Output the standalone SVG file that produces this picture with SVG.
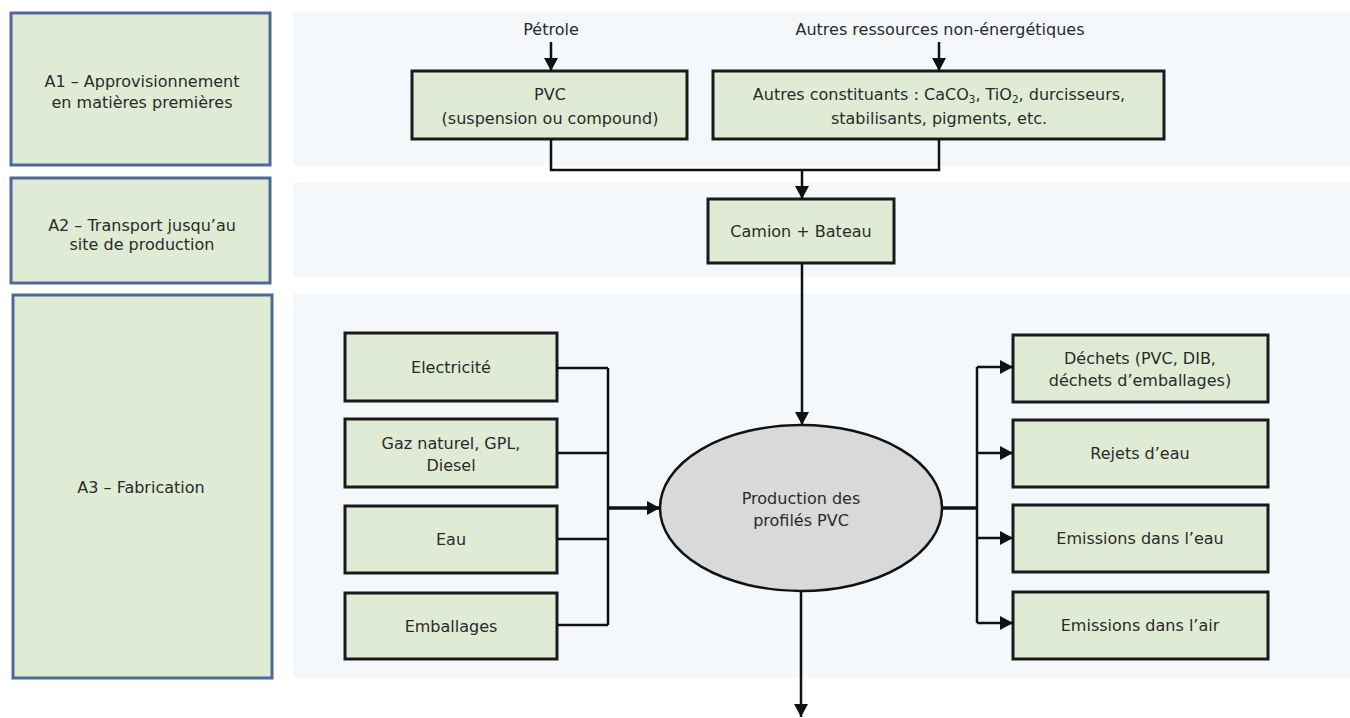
<svg xmlns="http://www.w3.org/2000/svg" width="1350" height="718" viewBox="0 0 1350 718">
<defs>
<style>
.band{fill:#f4f8fb}
.stage{fill:#e0ebd6;stroke:#4e6898;stroke-width:3}
.box{fill:#e0ebd6;stroke:#1a1a1a;stroke-width:3}
.ell{fill:#d9d9d9;stroke:#111;stroke-width:2.5}
text{font-family:"DejaVu Sans","Liberation Sans",sans-serif;font-size:16px;fill:#2a2a2a;text-anchor:middle}
.c{fill:none;stroke:#111;stroke-width:2.5}
.t{fill:none;stroke:#111;stroke-width:3.5}
.sub{font-size:10.5px}
</style>
<marker id="ah" markerUnits="userSpaceOnUse" markerWidth="14" markerHeight="14" refX="13" refY="7" orient="auto">
<path d="M0,0 L13,7 L0,14 z" fill="#111"/>
</marker>
</defs>
<rect width="1350" height="718" fill="#ffffff"/>
<g id="bands">
<rect class="band" x="293" y="12" width="1057" height="154"/>
<rect class="band" x="293" y="183" width="1057" height="94"/>
<rect class="band" x="293" y="294" width="1057" height="384"/>
</g>
<g id="stage-a1">
<rect class="stage" x="11" y="13" width="259" height="152"/>
<text x="142" y="87">A1 – Approvisionnement</text>
<text x="142" y="108">en matières premières</text>
</g>
<g id="stage-a2">
<rect class="stage" x="11" y="178" width="259" height="105"/>
<text x="142" y="231">A2 – Transport jusqu’au</text>
<text x="142" y="250">site de production</text>
</g>
<g id="stage-a3">
<rect class="stage" x="13" y="295" width="259" height="383"/>
<text x="141" y="493">A3 – Fabrication</text>
</g>
<g id="label-petrole">
<text x="551" y="35">Pétrole</text>
</g>
<g id="label-autres-ressources">
<text x="940" y="35">Autres ressources non-énergétiques</text>
</g>
<g id="node-pvc">
<rect class="box" x="412" y="71" width="275" height="68"/>
<text x="550" y="100">PVC</text>
<text x="550" y="124">(suspension ou compound)</text>
</g>
<g id="node-autres">
<rect class="box" x="713" y="71" width="451" height="68"/>
<text x="939" y="100">Autres constituants : CaCO<tspan class="sub" dy="3">3</tspan><tspan dy="-3">, TiO</tspan><tspan class="sub" dy="3">2</tspan><tspan dy="-3">, durcisseurs,</tspan></text>
<text x="939" y="124">stabilisants, pigments, etc.</text>
</g>
<g id="node-camion">
<rect class="box" x="708" y="199" width="186" height="64"/>
<text x="801" y="237">Camion + Bateau</text>
</g>
<g id="node-electricite">
<rect class="box" x="345" y="333" width="212" height="68"/>
<text x="451" y="373">Electricité</text>
</g>
<g id="node-gaz">
<rect class="box" x="345" y="419" width="212" height="68"/>
<text x="451" y="449">Gaz naturel, GPL,</text>
<text x="451" y="471">Diesel</text>
</g>
<g id="node-eau">
<rect class="box" x="345" y="506" width="212" height="67"/>
<text x="451" y="545">Eau</text>
</g>
<g id="node-emballages">
<rect class="box" x="345" y="593" width="212" height="66"/>
<text x="451" y="632">Emballages</text>
</g>
<g id="node-production">
<ellipse class="ell" cx="801" cy="508" rx="141" ry="83"/>
<text x="801" y="504">Production des</text>
<text x="801" y="526">profilés PVC</text>
</g>
<g id="node-dechets">
<rect class="box" x="1013" y="335" width="255" height="67"/>
<text x="1140" y="364">Déchets (PVC, DIB,</text>
<text x="1140" y="386">déchets d’emballages)</text>
</g>
<g id="node-rejets">
<rect class="box" x="1013" y="420" width="255" height="67"/>
<text x="1140" y="459">Rejets d’eau</text>
</g>
<g id="node-em-eau">
<rect class="box" x="1013" y="505" width="255" height="67"/>
<text x="1140" y="544">Emissions dans l’eau</text>
</g>
<g id="node-em-air">
<rect class="box" x="1013" y="592" width="255" height="67"/>
<text x="1140" y="631">Emissions dans l’air</text>
</g>
<g id="connectors">
<path class="c" d="M551,42 V71" marker-end="url(#ah)"/>
<path class="c" d="M939,42 V71" marker-end="url(#ah)"/>
<path class="c" d="M551,139 V170 H939 V139"/>
<path class="c" d="M802,170 V199" marker-end="url(#ah)"/>
<path class="c" d="M802,263 V425" marker-end="url(#ah)"/>
<path class="c" d="M557,368 H608 M557,453 H608 M557,539 H608 M557,625 H608 M608,368 V625"/>
<path class="t" d="M608,508 H660" marker-end="url(#ah)"/>
<path class="t" d="M942,508 H977"/>
<path class="c" d="M977,367 V623"/>
<path class="c" d="M977,367 H1013" marker-end="url(#ah)"/>
<path class="c" d="M977,453 H1013" marker-end="url(#ah)"/>
<path class="c" d="M977,538 H1013" marker-end="url(#ah)"/>
<path class="c" d="M977,623 H1013" marker-end="url(#ah)"/>
<path class="c" d="M801,591 V717" marker-end="url(#ah)"/>
</g>
</svg>
